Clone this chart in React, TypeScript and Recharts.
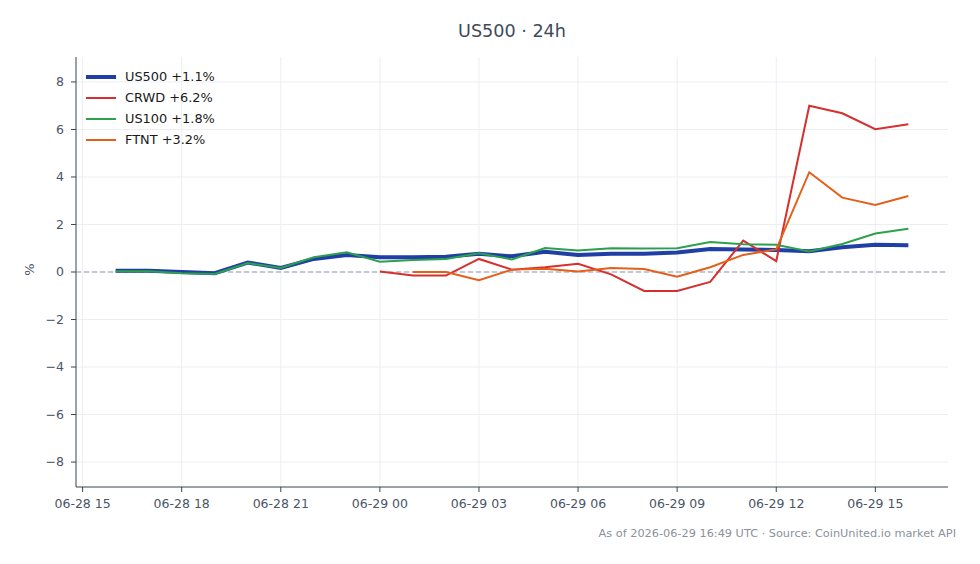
import React from 'react';
import { LineChart, Line, XAxis, YAxis, ReferenceLine } from 'recharts';

// hours since 2026-06-28 00:00 UTC
const hours = [16, 17, 18, 19, 20, 21, 22, 23, 24, 25, 26, 27, 28, 29, 30, 31, 32, 33, 34, 35, 36, 37, 38, 39, 40];
const us500 = [0.05, 0.05, 0.0, -0.05, 0.4, 0.17, 0.55, 0.72, 0.62, 0.62, 0.64, 0.77, 0.66, 0.85, 0.72, 0.77, 0.77, 0.82, 0.97, 0.95, 0.93, 0.87, 1.04, 1.15, 1.13];
const us100 = [0.03, 0.03, -0.05, -0.08, 0.38, 0.17, 0.62, 0.83, 0.43, 0.5, 0.55, 0.79, 0.53, 1.01, 0.9, 1.0, 0.99, 1.0, 1.26, 1.17, 1.15, 0.86, 1.18, 1.62, 1.82];
const crwd = [null, null, null, null, null, null, null, null, 0.02, -0.15, -0.15, 0.55, 0.1, 0.2, 0.35, -0.1, -0.8, -0.8, -0.42, 1.32, 0.46, 7.0, 6.68, 6.01, 6.22];
const ftnt = [null, null, null, null, null, null, null, null, null, 0.0, 0.0, -0.35, 0.1, 0.14, 0.02, 0.17, 0.13, -0.2, 0.2, 0.72, 0.95, 4.2, 3.13, 2.82, 3.2];

const xTicks = [15, 18, 21, 24, 27, 30, 33, 36, 39];
const yTicks = [-8, -6, -4, -2, 0, 2, 4, 6, 8];

const seriesInfo = [
  { key: 'us500', label: 'US500 +1.1%', color: '#1f3fa6', width: 4 },
  { key: 'crwd', label: 'CRWD +6.2%', color: '#d62f2f', width: 2 },
  { key: 'us100', label: 'US100 +1.8%', color: '#2ca04c', width: 2 },
  { key: 'ftnt', label: 'FTNT +3.2%', color: '#e4601a', width: 2 },
];

const data = hours.map((h, i) => ({ h, us500: us500[i], us100: us100[i], crwd: crwd[i], ftnt: ftnt[i] }));

const pad = (n: number) => (n < 10 ? '0' + n : '' + n);
const fmtX = (h: number) => (h < 24 ? `06-28 ${pad(h)}` : `06-29 ${pad(h - 24)}`);
const fmtY = (v: number) => (v < 0 ? '\u2212' + Math.abs(v) : '' + v);

const font = '"DejaVu Sans", sans-serif';
const tickColor = '#4a5566';
const gridColor = '#eceef2';

export default function App() {
  return (
    <div style={{ position: 'absolute', left: 0, top: 0, width: 980, height: 564, background: '#fff', fontFamily: font }}>
      <div style={{ position: 'absolute', left: 0, width: 1024, top: 21, textAlign: 'center', fontSize: 17.6, color: '#3f4b5b' }}>
        US500 · 24h
      </div>
      <div style={{ position: 'absolute', left: 23, top: 262, fontSize: 13, color: tickColor, transform: 'rotate(-90deg)', transformOrigin: 'center' }}>
        %
      </div>
      <div style={{ position: 'absolute', right: 24, top: 527, fontSize: 11.3, color: '#8a929c' }}>
        As of 2026-06-29 16:49 UTC · Source: CoinUnited.io market API
      </div>
      <LineChart width={980} height={564} data={data} margin={{ top: 57, right: 32, left: 0, bottom: 0 }}>
        {xTicks.map((t) => (
          <ReferenceLine key={'gx' + t} x={t} stroke={gridColor} strokeWidth={1} />
        ))}
        {yTicks.map((t) => (
          <ReferenceLine key={'gy' + t} y={t} stroke={gridColor} strokeWidth={1} />
        ))}
        <XAxis
          dataKey="h"
          type="number"
          domain={[14.8, 41.2]}
          ticks={xTicks}
          tickFormatter={fmtX}
          height={77}
          axisLine={{ stroke: '#3b4452', strokeWidth: 1 }}
          tickLine={{ stroke: '#3b4452' }}
          tickSize={5}
          tickMargin={7}
          tick={{ fill: tickColor, fontSize: 12.5, fontFamily: font }}
          interval={0}
          allowDataOverflow
        />
        <YAxis
          type="number"
          domain={[-9.05, 9.05]}
          ticks={yTicks}
          tickFormatter={fmtY}
          width={76}
          axisLine={{ stroke: '#3b4452', strokeWidth: 1 }}
          tickLine={{ stroke: '#3b4452' }}
          tickSize={5}
          tickMargin={7}
          tick={{ fill: tickColor, fontSize: 12.5, fontFamily: font }}
          interval={0}
          allowDataOverflow
        />
        <ReferenceLine y={0} stroke="#8e9bb2" strokeDasharray="5 3" strokeWidth={1} />
        {seriesInfo.map((s) => (
          <Line
            key={s.key}
            type="linear"
            dataKey={s.key}
            stroke={s.color}
            strokeWidth={s.width}
            dot={false}
            activeDot={false}
            connectNulls={false}
            isAnimationActive={false}
          />
        ))}
      </LineChart>
      <div style={{ position: 'absolute', left: 86, top: 66 }}>
        {seriesInfo.map((s) => (
          <div key={s.key} style={{ display: 'flex', alignItems: 'center', height: 21 }}>
            <div style={{ width: 30, height: s.width, background: s.color, marginRight: 9 }} />
            <span style={{ fontSize: 12.9, color: '#1a1a1a' }}>{s.label}</span>
          </div>
        ))}
      </div>
    </div>
  );
}
